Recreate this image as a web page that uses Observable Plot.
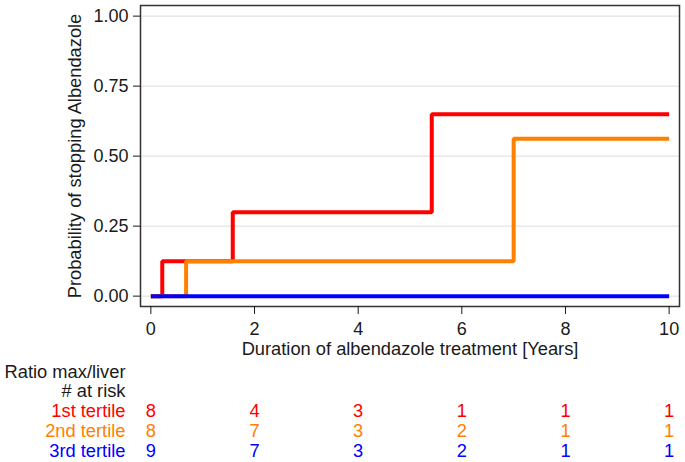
<!DOCTYPE html>
<html>
<head>
<meta charset="utf-8">
<script src="https://cdn.jsdelivr.net/npm/d3@7"></script>
<script src="https://cdn.jsdelivr.net/npm/@observablehq/plot@0.6"></script>
<style>
  html, body { margin: 0; padding: 0; background: #fff; }
</style>
</head>
<body>
<div id="chart"></div>
<script>
const groups = ["1st tertile", "2nd tertile", "3rd tertile"];
const colors = ["#ff0000", "#ff8000", "#0000ff"];

const times1 = [0, 0.22, 1.58, 5.42, 10];
const probs1 = [0, 0.125, 0.30, 0.65, 0.65];
const times2 = [0, 0.68, 7.0, 10];
const probs2 = [0, 0.125, 0.5625, 0.5625];
const times3 = [0, 10];
const probs3 = [0, 0];

const riskTimes = [0, 2, 4, 6, 8, 10];
const atRisk1 = [8, 4, 3, 1, 1, 1];
const atRisk2 = [8, 7, 3, 2, 1, 1];
const atRisk3 = [9, 7, 3, 2, 1, 1];

const yTicks = [0, 0.25, 0.5, 0.75, 1];
const xTicks = [0, 2, 4, 6, 8, 10];

const curves = [
  [times1, probs1],
  [times2, probs2],
  [times3, probs3]
].map(([t, p], i) => t.map((x, j) => ({x, y: p[j], g: groups[i]}))).flat();

const risks = [atRisk1, atRisk2, atRisk3]
  .map((r, i) => r.map((n, j) => ({x: riskTimes[j], n, g: groups[i], row: i}))).flat();

const rowDy = [110, 130, 150];
const FT = 18;    // tick labels
const FL = 18.3;  // titles / table

const plot = Plot.plot({
  width: 685,
  height: 462,
  marginLeft: 140,
  marginRight: 6,
  marginTop: 5,
  marginBottom: 156,
  style: {fontFamily: "'Liberation Sans', Arial, sans-serif", fontSize: FT + "px", color: "#1a1a1a", background: "#fff"},
  x: {domain: [-0.2, 10.2]},
  y: {domain: [-0.037, 1.038]},
  color: {domain: groups, range: colors},
  marks: [
    Plot.gridY(yTicks, {stroke: "#dcdcdc", strokeOpacity: 1, strokeWidth: 1}),
    Plot.line(curves, {x: "x", y: "y", z: "g", stroke: "g", curve: "step-after", strokeWidth: 4, strokeLinejoin: "miter", strokeLinecap: "butt"}),
    Plot.frame({stroke: "#333", strokeWidth: 1.5}),
    Plot.axisY(yTicks, {tickFormat: ".2f", tickSize: 7, tickPadding: 5, label: null, fontSize: FT}),
    Plot.axisX(xTicks, {tickSize: 8, tickPadding: 8, label: null, fontSize: FT}),
    Plot.text(["Probability of stopping Albendazole"], {frameAnchor: "left", rotate: -90, dx: -65, textAnchor: "middle", lineAnchor: "middle", text: d => d, fontSize: FL, fill: "#1a1a1a"}),
    Plot.text(["Duration of albendazole treatment [Years]"], {x: 5, frameAnchor: "bottom", dy: 48, lineAnchor: "bottom", text: d => d, fontSize: FL, fill: "#1a1a1a"}),
    Plot.text(["Ratio max/liver"], {frameAnchor: "bottom-left", dx: -15, dy: 71, textAnchor: "end", lineAnchor: "bottom", text: d => d, fontSize: FL, fill: "#1a1a1a"}),
    Plot.text(["# at risk"], {frameAnchor: "bottom-left", dx: -15, dy: 90, textAnchor: "end", lineAnchor: "bottom", text: d => d, fontSize: FL, fill: "#1a1a1a"}),
    ...groups.map((g, i) => Plot.text([g], {frameAnchor: "bottom-left", dx: -15, dy: rowDy[i], textAnchor: "end", lineAnchor: "bottom", text: d => d, fontSize: FL, fill: colors[i]})),
    ...groups.map((g, i) => Plot.text(risks.filter(d => d.row === i), {x: "x", frameAnchor: "bottom", dy: rowDy[i], lineAnchor: "bottom", text: d => String(d.n), fontSize: FL, fill: colors[i]}))
  ]
});

document.getElementById("chart").appendChild(plot);
</script>
</body>
</html>
